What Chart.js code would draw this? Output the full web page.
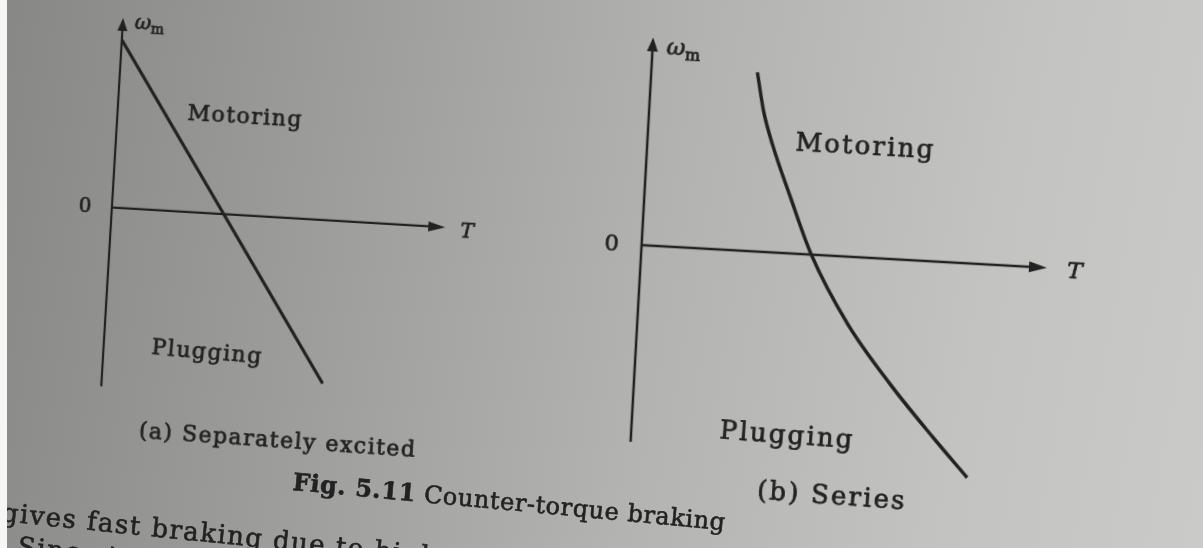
<!DOCTYPE html>
<html>
<head>
<meta charset="utf-8">
<title>Counter-torque braking</title>
<script src="https://cdn.jsdelivr.net/npm/chart.js@4.4.1/dist/chart.umd.min.js"></script>
<style>
  html, body { margin: 0; padding: 0; }
  body {
    width: 1203px; height: 548px; overflow: hidden; position: relative;
    background: linear-gradient(100deg, #878785 0%, #9d9d9b 28%, #b3b3b1 55%, #c3c3c1 80%, #cacac8 100%);
    font-family: "DejaVu Serif", serif; color: #222;
  }
  canvas { position: absolute; left: 0; top: 0; }
  #sep { transform-origin: 270px 210px; transform: rotate(3.4deg); }
  #ser { transform-origin: 800px 260px; transform: rotate(3.2deg); }
  .line { position: absolute; white-space: nowrap; transform-origin: 0 50%; -webkit-text-stroke: 0.6px #222; }
  #caption { left: 293px; top: 468px; font-size: 24px; line-height: 28px; letter-spacing: 0.6px; transform: rotate(5.3deg); }
  #caption b { font-weight: bold; }
  #body1 { left: 2px; top: 497px; font-size: 26px; line-height: 30px; letter-spacing: 1.5px; transform: rotate(5.8deg); }
  #body2 { left: 18px; top: 531px; font-size: 26px; line-height: 30px; letter-spacing: 1.5px; transform: rotate(5.8deg); }
  #edge { position: absolute; left: 0; top: 0; width: 7px; height: 548px; background: #f6f6f4; }
</style>
</head>
<body>
<canvas id="sep" width="1203" height="548"></canvas>
<canvas id="ser" width="1203" height="548"></canvas>
<div id="caption" class="line"><b>Fig. 5.11</b> Counter-torque braking</div>
<div id="body1" class="line">gives fast braking due to high</div>
<div id="body2" class="line">Since to</div>
<div id="edge"></div>
<script>
// separately excited motor: straight speed-torque line
const sepTorque = [0, 1, 1.97];
const sepSpeed = [1, 0, -0.97];

// series motor: hyperbola-like speed-torque curve
const serTorque = [1.06, 1.145, 1.25, 1.46, 1.7, 2.1, 2.56, 3.02, 3.38];
const serSpeed = [1.79, 1.4, 1.08, 0.56, 0, -0.67, -1.25, -1.76, -2.14];

// axis extents (torque from 0, speed both signs)
const sepTMax = 2.98, sepWMin = -1.065, sepWMax = 1.13;
const serTMax = 4.06, serWMin = -1.97, serWMax = 2.08;

// region names and captions, anchored in (T, wm) units
const sepNotes = [
  { text: "Motoring", t: 1.14, w: 0.58 },
  { text: "Plugging", t: 0.925, w: -0.83, rot: 1.5 },
  { text: "(a) Separately excited", t: 1.6, w: -1.33, rot: 0.6 },
];
const serNotes = [
  { text: "Motoring", t: 2.18, w: 1.1 },
  { text: "Plugging", t: 1.56, w: -1.83, rot: 1 },
  { text: "(b) Series", t: 2.04, w: -2.41, rot: 1 },
];

const ink = "#222";
const serif = "'DejaVu Serif', serif";

const drawArrow = (ctx, x, y, dx, dy, len, half) => {
  ctx.beginPath();
  ctx.moveTo(x, y);
  ctx.lineTo(x - dx * len - dy * half, y - dy * len + dx * half);
  ctx.lineTo(x - dx * len + dy * half, y - dy * len - dx * half);
  ctx.closePath();
  ctx.fill();
};

// print text slightly heavier, like the book type
const inkText = (ctx, s, x, y) => {
  ctx.fillText(s, x, y);
  ctx.strokeText(s, x, y);
};

// axes through the origin, arrow heads and text, all placed with the chart scales
const makeDecor = (notes, st) => ({
  id: "torqueAxes",
  beforeDatasetsDraw(chart) {
    const { ctx, chartArea: a, scales: { x, y } } = chart;
    const ox = x.getPixelForValue(0);
    const oy = y.getPixelForValue(0);
    ctx.save();
    ctx.strokeStyle = ink;
    ctx.fillStyle = ink;
    ctx.lineWidth = st.axisWidth;
    ctx.beginPath();
    ctx.moveTo(ox, a.bottom);
    ctx.lineTo(ox, a.top + st.headUp - 2);
    ctx.moveTo(ox, oy);
    ctx.lineTo(a.right - st.head + 2, oy);
    ctx.stroke();
    drawArrow(ctx, ox, a.top, 0, -1, st.headUp, st.half);
    drawArrow(ctx, a.right, oy, 1, 0, st.head, st.half);
    ctx.restore();
  },
  afterDatasetsDraw(chart) {
    const { ctx, chartArea: a, scales: { x, y } } = chart;
    const ox = x.getPixelForValue(0);
    const oy = y.getPixelForValue(0);
    ctx.save();
    ctx.fillStyle = ink;
    ctx.strokeStyle = ink;
    ctx.lineWidth = 0.7;
    ctx.textAlign = "center";
    ctx.textBaseline = "middle";

    ctx.font = `${st.size}px ${serif}`;
    inkText(ctx, "0", ox + st.zero[0], oy + st.zero[1]);

    ctx.font = `italic ${st.size}px ${serif}`;
    inkText(ctx, "T", a.right + st.tLabel[0], oy + st.tLabel[1]);

    // omega with subscript m
    ctx.textAlign = "left";
    ctx.textBaseline = "alphabetic";
    const wx = ox + st.omega[0];
    const wy = a.top + st.omega[1];
    inkText(ctx, "ω", wx, wy);
    const ww = ctx.measureText("ω").width;
    ctx.font = `${Math.round(st.size * 0.68)}px ${serif}`;
    inkText(ctx, "m", wx + ww, wy + st.size * 0.22);

    ctx.textAlign = "center";
    ctx.textBaseline = "middle";
    ctx.font = `${st.noteSize}px ${serif}`;
    if ("letterSpacing" in ctx) ctx.letterSpacing = st.spacing + "px";
    notes.forEach((n) => {
      ctx.save();
      ctx.translate(x.getPixelForValue(n.t), y.getPixelForValue(n.w));
      ctx.rotate(((n.rot || 0) * Math.PI) / 180);
      inkText(ctx, n.text, 0, 0);
      ctx.restore();
    });
    ctx.restore();
  },
});

const makeChart = (id, torque, speed, tMax, wMin, wMax, pad, lineWidth, smooth, decor) =>
  new Chart(document.getElementById(id), {
    type: "line",
    data: {
      datasets: [
        {
          data: torque.map((t, i) => ({ x: t, y: speed[i] })),
          borderColor: ink,
          borderWidth: lineWidth,
          cubicInterpolationMode: smooth ? "monotone" : "default",
          tension: 0,
          pointRadius: 0,
          fill: false,
          clip: false,
        },
      ],
    },
    options: {
      responsive: false,
      animation: false,
      devicePixelRatio: 1,
      events: [],
      layout: { padding: pad },
      plugins: { legend: { display: false }, tooltip: { enabled: false } },
      scales: {
        x: { type: "linear", display: false, min: 0, max: tMax },
        y: { type: "linear", display: false, min: wMin, max: wMax },
      },
    },
    plugins: [decor],
  });

makeChart("sep", sepTorque, sepSpeed, sepTMax, sepWMin, sepWMax,
  { left: 112, right: 757, top: 27, bottom: 152 }, 3.2, false,
  makeDecor(sepNotes, {
    axisWidth: 2.2, head: 17, headUp: 13, half: 5, size: 20, noteSize: 22, spacing: 1.5,
    zero: [-27, 1], tLabel: [22, 4], omega: [12, 10],
  }));

makeChart("ser", serTorque, serSpeed, serTMax, serWMin, serWMax,
  { left: 641, right: 156, top: 46, bottom: 97 }, 3.5, true,
  makeDecor(serNotes, {
    axisWidth: 2.5, head: 18, headUp: 14, half: 5.5, size: 23, noteSize: 26, spacing: 2.2,
    zero: [-30, 1], tLabel: [28, 3], omega: [14, 16],
  }));
</script>
</body>
</html>
